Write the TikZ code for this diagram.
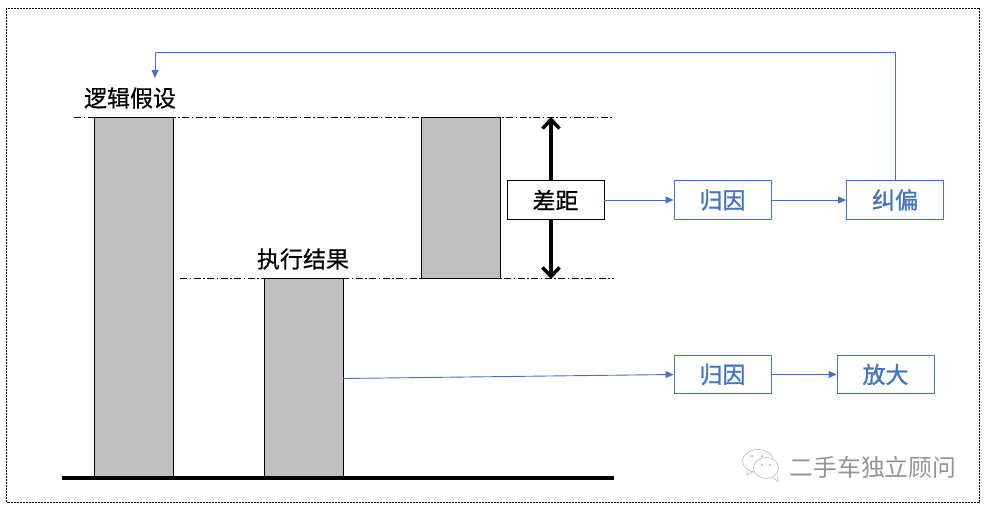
\documentclass[tikz,border=0pt]{standalone}
\usepackage{fontspec}
\newfontfamily\cjk[FakeBold=0.6]{Noto Sans CJK SC}
\newfontfamily\cjkblue[FakeBold=1.2]{Noto Sans CJK SC}
\newfontfamily\cjkthin{Noto Sans CJK SC}
\usetikzlibrary{arrows.meta}
\definecolor{bluel}{HTML}{4472C4}
\definecolor{barg}{HTML}{BFBFBF}
\tikzset{
 x=1pt,y=-1pt,
 every node/.style={font=\cjk\fontsize{23}{24}\selectfont,inner sep=0pt},
 bar/.style={draw=black,fill=barg,line width=0.9pt},
 refline/.style={draw=black,line width=0.6pt,dash pattern=on 7pt off 2.5pt on 1.5pt off 2.5pt},
 bluebox/.style={draw=bluel,line width=0.9pt,text=bluel,font=\cjkblue\fontsize{23}{24}\selectfont,minimum width=97pt,minimum height=38.5pt},
 conn/.style={draw=bluel,line width=0.9pt,-{Triangle[length=8pt,width=7pt]}},
 bigarrow/.style={draw=black,line width=4pt,-{Straight Barb[length=9pt,width=17pt,line width=3.5pt]}},
 frame/.style={draw=black,line width=0.6pt,dash pattern=on 2pt off 1pt},
}
\begin{document}
\begin{tikzpicture}
\useasboundingbox (0,0) rectangle (988,510);
\draw[frame] (6.5,8) rectangle (979.5,502);
% reference lines
\coordinate (t1) at (74,117.5); \coordinate (t2) at (614,117.5);
\coordinate (m1) at (180,278.5); \coordinate (m2) at (614,278.5);
\draw[refline] (t1) -- (t2);
\draw[refline] (m1) -- (m2);
% bars
\node[bar,minimum width=79pt,minimum height=360pt,anchor=north west] (b1) at (94,117.5) {};
\node[bar,minimum width=79pt,minimum height=199pt,anchor=north west] (b2) at (264,278.5) {};
\node[bar,minimum width=79pt,minimum height=161pt,anchor=north west] (b3) at (421,117.5) {};
\coordinate (g1) at (62,478); \coordinate (g2) at (614,478);
\draw[black,line width=4pt] (g1) -- (g2);
% labels
\node[text=black] (hyp) at (130,98) {逻辑假设};
\node[text=black] (res) at (303,259) {执行结果};
% gap
\node[draw=black,fill=white,line width=0.9pt,minimum width=97pt,minimum height=39pt] (gap) at (555.5,200) {差距};
\coordinate (up) at (551,117); \coordinate (dn) at (551,279);
\draw[bigarrow] (gap.north -| up) -- (up);
\draw[bigarrow] (gap.south -| dn) -- (dn);
% blue boxes
\node[bluebox] (a1) at (722.5,200) {归因};
\node[bluebox] (j) at (895,200) {纠偏};
\node[bluebox] (a2) at (722.5,374.5) {归因};
\node[bluebox] (f) at (885.5,374.5) {放大};
\draw[conn] (gap.east) -- (a1.west);
\draw[conn] (a1.east) -- (j.west);
\draw[conn] (a2.east) -- (f.west);
\coordinate (b2r) at (343,378.5);
\draw[conn] (b2r) -- (a2.west);
\coordinate (fb) at (155,78);
\draw[draw=bluel,line width=0.9pt,-{Triangle[length=8pt,width=7pt]}] (j.north) |- (155,52) -- (fb);
% watermark
\begin{scope}[draw=black!30,line width=0.5pt]
\draw[fill=white] (758,461) ellipse (15.5 and 11.5);
\draw (747,469) -- (747,475) -- (753,471.5);
\draw[fill=white] (766,468) ellipse (12.5 and 10.5);
\draw[fill=white] (773,477.5) -- (778,482) -- (777.5,475.5);
\fill[black!30] (752,456) circle (1.1) (762,456) circle (1.1) (762,465) circle (1) (770,465) circle (1);
\end{scope}
\node[text=black!42,font=\cjkthin\fontsize{23.8}{24}\selectfont] (wm) at (873,467) {二手车独立顾问};
\end{tikzpicture}
\end{document}
